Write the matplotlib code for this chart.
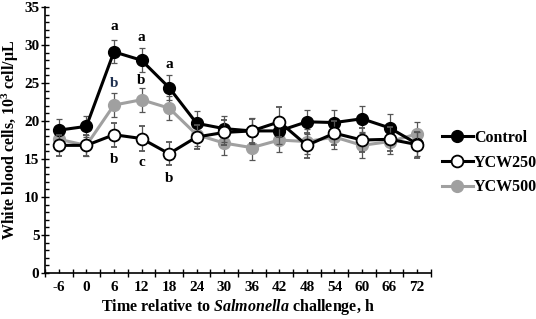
import numpy as np
import matplotlib
matplotlib.use('Agg')
import matplotlib.pyplot as plt
from matplotlib.ticker import MultipleLocator, FixedLocator

plt.rcParams['font.family'] = ['Liberation Serif', 'DejaVu Serif']
plt.rcParams['font.weight'] = 'bold'
plt.rcParams['mathtext.fontset'] = 'custom'
plt.rcParams['mathtext.rm'] = 'Liberation Serif:bold'
plt.rcParams['mathtext.it'] = 'Liberation Serif:italic:bold'
plt.rcParams['mathtext.bf'] = 'Liberation Serif:bold'

hours = ['-6', '0', '6', '12', '18', '24', '30', '36', '42', '48', '54', '60', '66', '72']

control = [18.8, 19.3, 29.1, 28.0, 24.4, 19.7, 19.0, 18.7, 18.7, 19.9, 19.8, 20.3, 19.1, 17.0]
ycw250 = [16.8, 16.8, 18.2, 17.7, 15.7, 17.9, 18.5, 18.7, 19.9, 16.8, 18.4, 17.5, 17.6, 16.9]
ycw500 = [17.6, 16.8, 22.1, 22.8, 21.7, 18.2, 17.1, 16.5, 17.5, 17.3, 17.9, 16.8, 17.3, 18.3]

sem_control = [1.5, 1.4, 1.5, 1.6, 1.6, 1.6, 1.7, 1.7, 1.7, 1.6, 1.6, 1.7, 1.8, 1.6]
sem_ycw250 = [1.4, 1.4, 1.6, 1.6, 1.5, 1.6, 1.6, 1.6, 2.0, 1.6, 1.6, 1.6, 1.6, 1.7]
sem_ycw500 = [1.5, 1.4, 1.6, 1.6, 1.6, 1.5, 1.6, 1.6, 1.6, 1.6, 1.6, 1.6, 1.6, 1.6]

# significance letters: (category index, y position, text)
letters_top = [(2, 32.4, 'a'), (3, 31.0, 'a'), (4, 27.5, 'a'), (2, 25.0, 'b'), (3, 25.3, 'b')]
letters_bottom = [(2, 15.0, 'b'), (3, 14.6, 'c'), (4, 12.4, 'b')]

x = np.arange(len(hours))

fig = plt.figure(figsize=(5.36, 3.19), dpi=100)
ax = fig.add_axes([0.084, 0.144, 0.72, 0.834])

gray = '#a0a0a0'
ebar = dict(ecolor='#555555', elinewidth=0.9, capsize=2.5, capthick=0.9)

ax.errorbar(x, ycw500, yerr=sem_ycw500, color=gray, lw=2.2, marker='o', ms=8.5,
            mfc=gray, mec=gray, label='YCW500', zorder=2, **ebar)
ax.errorbar(x, control, yerr=sem_control, color='black', lw=2.2, marker='o', ms=8.5,
            mfc='black', mec='black', label='Control', zorder=3, **ebar)
ax.errorbar(x, ycw250, yerr=sem_ycw250, color='black', lw=2.2, marker='o', ms=8.5,
            mfc='white', mec='black', mew=1.3, label='YCW250', zorder=4, **ebar)

for i, yv, t in letters_top + letters_bottom:
    c = '#1f3050' if (i == 2 and t == 'b' and yv > 20) else 'black'
    ax.text(i, yv, t, ha='center', va='center', fontsize=11, fontweight='bold', color=c)

ax.set_xlim(-0.5, len(hours) - 0.5)
ax.set_ylim(0, 35)
ax.set_xticks(x)
ax.set_xticklabels(hours)
ax.xaxis.set_minor_locator(FixedLocator(np.arange(-0.5, len(hours), 1.0)))
ax.yaxis.set_major_locator(MultipleLocator(5))
ax.yaxis.set_minor_locator(MultipleLocator(1))

ax.tick_params(axis='x', which='major', direction='in', length=3, width=1, pad=6, labelsize=11)
ax.tick_params(axis='x', which='minor', direction='inout', length=6, width=1)
ax.tick_params(axis='y', which='major', direction='inout', length=6, width=1, labelsize=11, pad=1)
ax.tick_params(axis='y', which='minor', direction='in', length=3, width=1)

for s in ['top', 'right']:
    ax.spines[s].set_visible(False)
for s in ['left', 'bottom']:
    ax.spines[s].set_linewidth(1.2)

ax.set_ylabel('White blood cells, 10$^{3}$ cell/\u03bcL', fontsize=11.5, fontweight='bold', labelpad=2)
ax.set_xlabel('Time relative to $\\mathit{Salmonella}$ challenge, h', fontsize=11.5,
              fontweight='bold', labelpad=2)

handles, labels = ax.get_legend_handles_labels()
order = [labels.index('Control'), labels.index('YCW250'), labels.index('YCW500')]
leg = fig.legend([handles[k][0] for k in order], [labels[k] for k in order],
                 loc='center left', bbox_to_anchor=(0.825, 0.49), frameon=False,
                 handlelength=1.9, handletextpad=0.1, labelspacing=0.55, borderpad=0,
                 borderaxespad=0, prop={'weight': 'bold', 'size': 11.5})

fig.savefig('out.png', dpi=100)
